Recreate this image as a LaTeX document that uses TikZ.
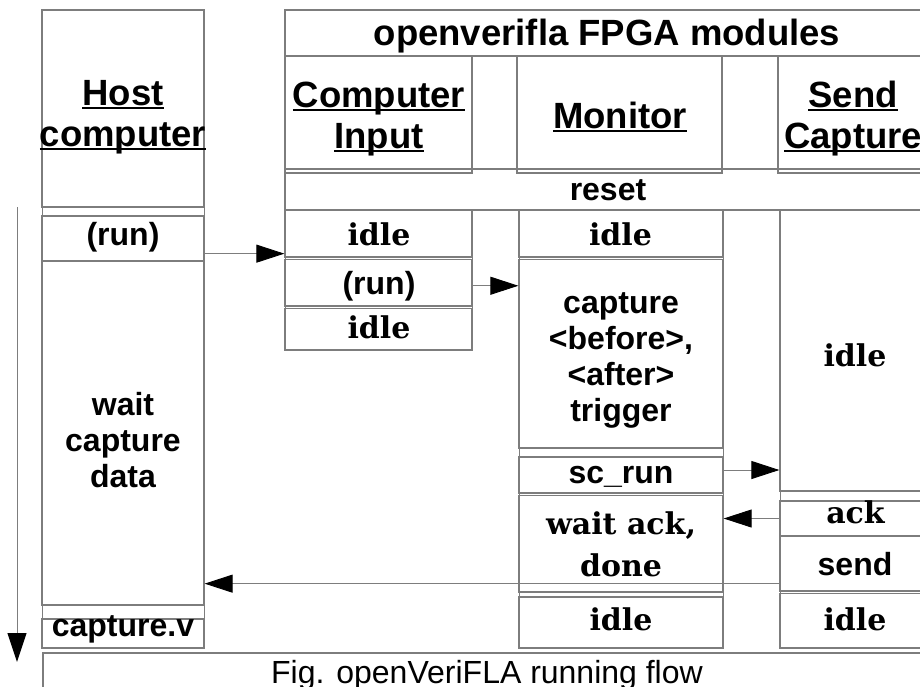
\documentclass[tikz,border=0pt]{standalone}
\usepackage{fontspec}
\setmainfont{Liberation Sans}
\newfontfamily\schb{DejaVu Serif}
\usetikzlibrary{arrows.meta,fit}
\definecolor{linegray}{RGB}{125,125,125}
\newsavebox\ulbox
\newcommand\myul[1]{\sbox\ulbox{#1}\rlap{\rule[-3.8pt]{\wd\ulbox}{2.2pt}}\usebox\ulbox}
\newcommand\mycell[6][]{\node[cell,#1,fit={(#3,#4)(#5,#6)}] (#2) {};}
\newcommand\mylab[5][]{\node[#1, anchor=base, inner sep=0pt] (#2) at (#3,#4) {#5};}
\newcommand\lines[1]{\begin{tabular}[t]{@{}c@{}}#1\end{tabular}}
\tikzset{
  cell/.style={draw=linegray, line width=1.3pt, inner sep=0pt},
  band/.style={line width=1pt},
  headtxt/.style={font=\bfseries\fontsize{36.5}{41}\selectfont},
  sansb/.style={font=\bfseries\fontsize{32}{36}\selectfont},
  serb/.style={font=\schb\bfseries\fontsize{30}{42.7}\selectfont},
  arr/.style={draw=linegray, line width=0.9pt, -{Triangle[length=28pt,width=18pt,color=black,fill=black]}},
}
\begin{document}
\begin{tikzpicture}[x=1pt,y=-1pt]
\path[use as bounding box] (0,0) rectangle (920,686);
\clip (0,0) rectangle (920,686);
\fill[white] (0,0) rectangle (920,686);
% Host computer column
\mycell{hhead}{42}{10}{204}{207}
\mycell[band]{hband1}{42}{207}{204}{216}
\mycell{hrun}{42}{216}{204}{261}
\mycell{hwait}{42}{261}{204}{605}
\mycell[band]{hband2}{42}{605}{204}{619}
\mycell{hcap}{42}{619}{204}{648}
\mylab[headtxt]{hheadT}{123}{105}{\lines{\myul{Host}\\\myul{computer}}}
\mylab[sansb]{hrunT}{123}{245}{(run)}
\mylab[sansb]{hwaitT}{123}{415}{\lines{wait\\capture\\data}}
\mylab[sansb]{hcapT}{123}{636.5}{capture.v}
% FPGA modules
\mycell{ftitle}{285}{10}{930}{56}
\mycell{freset}{285}{169}{930}{210}
\mycell{cihead}{285}{56}{472}{173}
\mycell{mhead}{517}{56}{722}{173}
\mycell{shead}{778}{56}{930}{173}
\mylab[headtxt]{ftitleT}{607}{45}{openverifla FPGA modules}
\mylab[sansb]{fresetT}{608}{200}{reset}
\mylab[headtxt]{ciheadT}{379}{107}{\lines{\myul{Computer}\\\myul{Input}}}
\mylab[headtxt]{mheadT}{620}{128}{\myul{Monitor}}
\mylab[headtxt]{sheadT}{853}{107}{\lines{\myul{Send}\\\myul{Capture}}}
% Computer Input column
\mycell{ciidle1}{285}{210}{472}{257}
\mycell[band]{ciband1}{285}{257}{472}{259.5}
\mycell{cirun}{285}{259.5}{472}{306}
\mycell[band]{ciband2}{285}{306}{472}{308.5}
\mycell{ciidle2}{285}{308.5}{472}{350}
\mylab[serb]{ciidle1T}{379}{245}{idle}
\mylab[sansb]{cirunT}{379}{294}{(run)}
\mylab[serb]{ciidle2T}{379}{338.5}{idle}
% Monitor column
\mycell{midle1}{519}{210}{723}{257}
\mycell[band]{mband1}{519}{257}{723}{259.5}
\mycell{mcap}{519}{259.5}{723}{448}
\mycell[band]{mband2}{519}{448}{723}{457}
\mycell{mscrun}{519}{457}{723}{493}
\mycell[band]{mband3}{519}{493}{723}{495.5}
\mycell{mwait}{519}{495.5}{723}{592}
\mycell[band]{mband4}{519}{592}{723}{597}
\mycell{midle2}{519}{597}{723}{648}
\mylab[serb]{midle1T}{620.5}{245}{idle}
\mylab[sansb]{mcapT}{621}{313.5}{\lines{capture\\<before>,\\<after>\\trigger}}
\mylab[sansb]{mscrunT}{621}{483.5}{sc\_run}
\mylab[serb]{mwaitT}{621}{534}{\lines{wait ack,\\done}}
\mylab[serb]{midle2T}{621}{630}{idle}
% Send Capture column
\mycell{sidle1}{780}{210}{930}{491}
\mycell[band]{sband1}{780}{491}{930}{501}
\mycell{sack}{780}{501}{930}{536}
\mycell{ssend}{780}{536}{930}{591}
\mycell[band]{sband2}{780}{591}{930}{593.5}
\mycell{sidle2}{780}{593.5}{930}{648}
\mylab[serb]{sidle1T}{855}{366}{idle}
\mylab[serb]{sackT}{855.5}{523.5}{ack}
\mylab[sansb]{ssendT}{855}{575}{send}
\mylab[serb]{sidle2T}{855}{630}{idle}
% caption
\mycell{capbox}{43}{653}{931}{740}
\mylab[font=\fontsize{32}{36}\selectfont]{captxt}{487}{683}{Fig. openVeriFLA running flow}
% arrows
\coordinate (a1) at ([yshift=4pt]ciidle1.south west);
\draw[arr] (hrun.east |- a1) -- (a1);
\coordinate (a2) at ([yshift=-3pt]cirun.east);
\draw[arr] (a2) -- (a2 -| mcap.west);
\coordinate (a3) at ([yshift=5pt]mscrun.east);
\draw[arr] (a3) -- (a3 -| sidle1.west);
\draw[arr] (sack.west) -- (sack.west -| mwait.east);
\coordinate (a5) at ([yshift=8pt]ssend.south west);
\draw[arr] (a5) -- (a5 -| hwait.east);
% time axis
\coordinate (tstart) at (17,207);
\coordinate (tend) at (17,662);
\draw[draw=linegray, line width=1pt, -{Triangle[length=29pt,width=19pt,color=black,fill=black]}] (tstart) -- (tend);
\end{tikzpicture}
\end{document}
